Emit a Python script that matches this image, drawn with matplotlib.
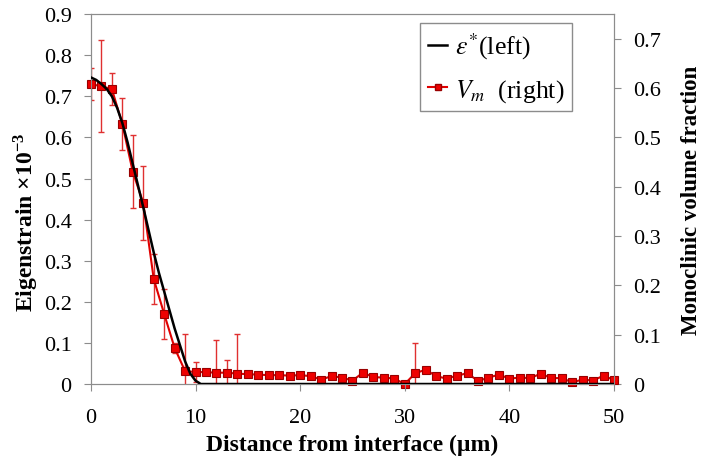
import numpy as np
import matplotlib.pyplot as plt

plt.rcParams['font.family'] = ['Liberation Serif', 'DejaVu Serif']
plt.rcParams['mathtext.fontset'] = 'stix'

# eigenstrain (left axis, x1e-3)
x_eps = [0, 0.5, 1, 1.5, 2, 2.5, 3, 3.5, 4, 4.5, 5, 5.5, 6, 6.5, 7, 7.5, 8,
         8.5, 9, 9.5, 10, 10.5, 11, 20, 30, 40, 50]
eps = [0.746, 0.74, 0.73, 0.718, 0.70, 0.672, 0.635, 0.588, 0.535, 0.483,
       0.43, 0.375, 0.32, 0.27, 0.225, 0.18, 0.135, 0.095, 0.055, 0.025,
       0.008, 0.0, 0.0, 0.0, 0.0, 0.0, 0.0]

# monoclinic volume fraction (right axis)
x_vm = list(range(0, 51))
vm = [0.608, 0.604, 0.598, 0.527, 0.430, 0.367, 0.213, 0.142, 0.073, 0.026,
      0.0245, 0.024, 0.023, 0.023, 0.021, 0.020, 0.019, 0.018, 0.018, 0.017,
      0.018, 0.016, 0.009, 0.016, 0.013, 0.007, 0.023, 0.014, 0.013, 0.011,
      0.0, 0.022, 0.029, 0.016, 0.011, 0.017, 0.022, 0.006, 0.013, 0.019,
      0.011, 0.013, 0.012, 0.021, 0.012, 0.012, 0.0035, 0.009, 0.007, 0.017,
      0.008]
vm_err = [0.032, 0.093, 0.033, 0.053, 0.074, 0.075, 0.05, 0.05, 0.01, 0.076,
          0.02, 0.005, 0.066, 0.026, 0.08, 0.004, 0.004, 0.003, 0.003, 0.003,
          0.003, 0.003, 0.003, 0.003, 0.003, 0.003, 0.004, 0.003, 0.003, 0.003,
          0.003, 0.062, 0.006, 0.003, 0.003, 0.003, 0.005, 0.003, 0.003, 0.003,
          0.003, 0.003, 0.003, 0.005, 0.003, 0.003, 0.003, 0.003, 0.003, 0.005,
          0.003]

fig = plt.figure(figsize=(7.02, 4.6), dpi=100)
ax = fig.add_axes([0.1296, 0.163, 0.745, 0.804])
ax2 = ax.twinx()

grey = '#8c8c8c'
red = '#e00000'

ax2.errorbar(x_vm, vm, yerr=vm_err, color=red, ecolor='#e03030',
             elinewidth=1, capsize=2.5, capthick=1, lw=1.5, zorder=3)
ax2.plot(x_vm, vm, ls='none', marker='s', ms=6, mfc='#ee0000',
         mec='#990000', mew=0.8, zorder=4, clip_on=False)
ax.plot(x_eps, eps, color='black', lw=1.8, zorder=4)

ax.set_zorder(ax2.get_zorder() + 1)
ax.patch.set_visible(False)

ax.set_xlim(0, 50)
ax.set_ylim(0, 0.9)
ax2.set_ylim(0, 0.75)
ax.set_xticks([0, 10, 20, 30, 40, 50])
ax.set_yticks(np.arange(0, 0.91, 0.1))
ax.set_yticklabels(['0', '0.1', '0.2', '0.3', '0.4', '0.5', '0.6', '0.7', '0.8', '0.9'])
ax2.set_yticks(np.arange(0, 0.71, 0.1))
ax2.set_yticklabels(['0', '0.1', '0.2', '0.3', '0.4', '0.5', '0.6', '0.7'])

for a in (ax, ax2):
    for s in a.spines.values():
        s.set_color(grey)
    a.tick_params(colors=grey, labelcolor='black', labelsize=16, length=5,
                  direction='out', pad=9)
ax.tick_params(axis='x', pad=12)

ax.set_xlabel('Distance from interface (\u00b5m)', fontsize=17, fontweight='bold',
              labelpad=5)
ax.set_ylabel('Eigenstrain \u00d710$^{\\mathregular{-3}}$', fontsize=17,
              fontweight='bold')
ax.yaxis.set_label_coords(-0.095, 0.44)
ax2.set_ylabel('Monoclinic volume fraction', fontsize=16.5, fontweight='bold',
               labelpad=14)

h1, = ax.plot([], [], color='black', lw=1.8)
h2, = ax.plot([], [], color=red, lw=1.5, marker='s', ms=5,
              mfc='#ee0000', mec='#990000')
leg = ax.legend([h1, h2], ['$\\varepsilon^{*}$(left)', '$V_m$  (right)'],
                loc='upper right', bbox_to_anchor=(0.93, 0.99), fontsize=18.5,
                handlelength=0.75, handletextpad=0.3, borderpad=0.3,
                labelspacing=0.6, fancybox=False, framealpha=1,
                borderaxespad=0.2)
leg.get_frame().set_edgecolor(grey)

fig.savefig('out.png', dpi=100)
